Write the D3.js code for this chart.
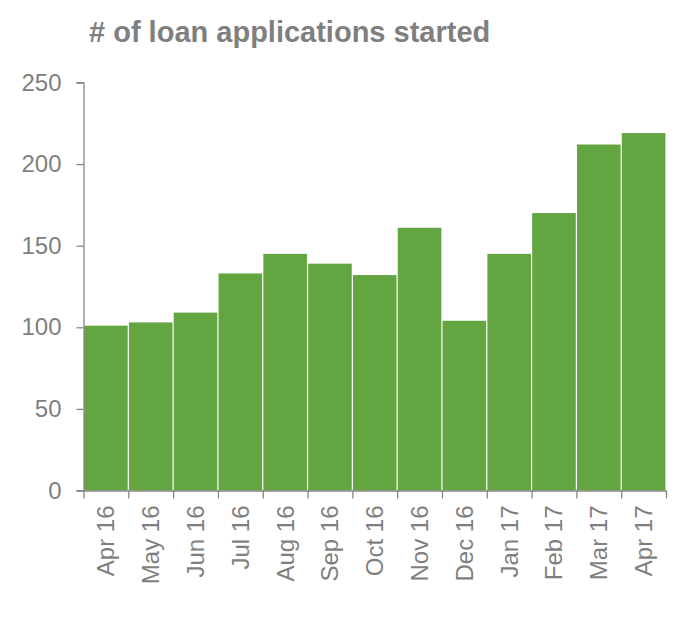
<!DOCTYPE html>
<html>
<head>
<meta charset="utf-8">
<script src="https://cdn.jsdelivr.net/npm/d3@7/dist/d3.min.js"></script>
<style>
  html, body { margin: 0; padding: 0; background: #fff; }
  svg { display: block; font-family: "Liberation Sans", Arial, sans-serif; }
</style>
</head>
<body>
<svg id="chart" width="680" height="625"></svg>
<script>
const categories = ["Apr 16","May 16","Jun 16","Jul 16","Aug 16","Sep 16","Oct 16","Nov 16","Dec 16","Jan 17","Feb 17","Mar 17","Apr 17"];
const values = [101, 103, 109, 133, 145, 139, 132, 161, 104, 145, 170, 212, 219];
const yTicks = [0, 50, 100, 150, 200, 250];
const chartTitle = "# of loan applications started";

(function () {
const svg = d3.select("#chart");
const mLeft = 83.5, mRight = 666, mTop = 82.5, mBottom = 490.5;
const gray = "#7f7f7f", axisGray = "#868686", green = "#63a541";

const x = d3.scaleBand().domain(categories).range([mLeft, mRight]).padding(0);
const xi = d3.scaleLinear().domain([0, categories.length]).range([mLeft, mRight]);
const y = d3.scaleLinear().domain([0, 250]).range([mBottom, mTop]);

svg.append("text")
  .attr("x", 89).attr("y", 42)
  .attr("font-size", 29).attr("font-weight", "bold")
  .attr("fill", gray).text(chartTitle);

svg.append("g").selectAll("rect").data(values).join("rect")
  .attr("x", (d, i) => x(categories[i]) + 0.6)
  .attr("width", x.bandwidth() - 1.2)
  .attr("y", d => y(d))
  .attr("height", d => y(0) - y(d))
  .attr("fill", green);

const yAxis = svg.append("g")
  .attr("transform", `translate(${mLeft},0)`)
  .call(d3.axisLeft(y).tickValues(yTicks).tickSize(7).tickPadding(15).tickFormat(d3.format("d")));
yAxis.select(".domain").attr("stroke", axisGray).attr("stroke-width", 1.3);
yAxis.selectAll(".tick line").attr("stroke", axisGray).attr("stroke-width", 1.3);
yAxis.selectAll(".tick text").attr("fill", gray).attr("font-size", 24)
  .attr("font-family", "'Liberation Sans', Arial, sans-serif");

const xAxis = svg.append("g")
  .attr("transform", `translate(0,${mBottom})`)
  .call(d3.axisBottom(xi).tickValues(d3.range(categories.length + 1)).tickSize(8).tickSizeOuter(0).tickFormat(""));
xAxis.select(".domain").attr("stroke", axisGray).attr("stroke-width", 1.3);
xAxis.selectAll(".tick line").attr("stroke", axisGray).attr("stroke-width", 1.3);

svg.append("g").selectAll("text").data(categories).join("text")
  .attr("transform", d => `translate(${x(d) + x.bandwidth() / 2 + 8.5},${mBottom + 15}) rotate(-90)`)
  .attr("text-anchor", "end")
  .attr("font-size", 24)
  .attr("fill", gray)
  .text(d => d);
})();
</script>
</body>
</html>
